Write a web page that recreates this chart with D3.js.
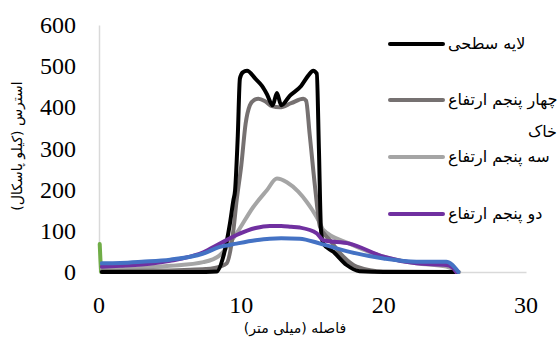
<!DOCTYPE html>
<html>
<head>
<meta charset="utf-8">
<script src="https://cdn.jsdelivr.net/npm/d3@7"></script>
<style>
  body { margin: 0; background: #fff; }
  svg { display: block; }
</style>
</head>
<body>
<svg id="chart" width="558" height="342"></svg>
<script>
// distance (mm) / stress (kPa) per series
const surfaceX = [0.2, 3, 6, 7.5, 8.27, 8.73, 9.2, 9.44, 9.56, 9.75, 9.9, 10.1, 10.4, 11.0, 11.45, 11.8, 12.2, 12.5, 12.8, 13.4, 14.2, 14.7, 15.05, 15.3, 15.45, 15.6, 15.76, 16.47, 17.4, 18.3, 20, 25.2];
const surfaceY = [0, 0, 0, 0, 1, 37, 118, 174, 198, 330, 470, 485, 489, 469, 452, 432, 405, 435, 405, 428, 452, 477, 489, 482, 300, 100, 69, 49, 17, 2, 0, 0];

const fourFifthX = [0.2, 3, 6, 7.5, 8.03, 8.5, 8.97, 9.44, 9.67, 10.0, 10.3, 10.6, 10.9, 11.2, 11.7, 12.15, 12.7, 13.5, 14.35, 14.55, 14.8, 15.2, 15.53, 16.23, 17.17, 18.1, 20, 25.2];
const fourFifthY = [2, 3, 5, 7, 9, 13, 21, 101, 174, 260, 360, 405, 418, 421, 414, 403, 400, 410, 421, 416, 335, 200, 110, 77, 37, 13, 1, 0];

const threeFifthX = [0.2, 3, 5, 7.33, 8.5, 9.67, 10.84, 11.78, 12.5, 13.2, 14.0, 14.6, 15.0, 15.53, 15.76, 17.6, 20, 22.3, 24.4, 25.3];
const threeFifthY = [6, 10, 15, 24, 41, 94, 158, 198, 227, 218, 195, 170, 150, 118, 102, 69, 37, 21, 13, 0];

const twoFifthX = [0.2, 1.5, 3, 5, 7.33, 8.5, 9.67, 11, 12.0, 12.8, 13.5, 14.1, 15.3, 15.76, 17.6, 20, 22.3, 24.4, 24.8, 25.1];
const twoFifthY = [13, 15, 18, 27, 48, 69, 90, 107, 112, 112, 110, 108, 94, 77, 69, 37, 21, 17, 12, 0];

const blueX = [0.2, 1.5, 3, 5, 7.33, 8.5, 9.67, 11, 12.0, 12.8, 14.1, 15.53, 17.6, 20, 22.3, 24.4, 24.8, 25.25];
const blueY = [21, 22, 25, 30, 45, 61, 69, 77, 81, 82, 81, 69, 49, 33, 25, 25, 18, 0];

const greenX = [0.05, 0.1, 0.15];
const greenY = [68, 30, 0];

const xTicks = [0, 10, 20, 30];
const yTicks = [0, 100, 200, 300, 400, 500, 600];

const series = [
    { x: greenX, y: greenY, color: '#70ad47' },
    { x: threeFifthX, y: threeFifthY, color: '#a5a5a5' },
    { x: fourFifthX, y: fourFifthY, color: '#767171' },
    { x: surfaceX, y: surfaceY, color: '#000000' },
    { x: twoFifthX, y: twoFifthY, color: '#7030a0' },
    { x: blueX, y: blueY, color: '#4472c4' }
];

const legendItems = [
    { lines: ['لایه سطحی'], color: '#000000' },
    { lines: ['چهار پنجم ارتفاع', 'خاک'], color: '#767171' },
    { lines: ['سه پنجم ارتفاع'], color: '#a5a5a5' },
    { lines: ['دو پنجم ارتفاع'], color: '#7030a0' }
];

const svg = d3.select('#chart');
const x = d3.scaleLinear().domain([0, 30]).range([99, 526]);
const y = d3.scaleLinear().domain([0, 600]).range([272, 25]);

const faFont = 'DejaVu Sans';

// axes: domain line only, labels drawn as plain text below
const yAxis = svg.append('g')
    .attr('transform', `translate(${x(0)},0)`)
    .call(d3.axisLeft(y).tickValues(yTicks).tickSize(0).tickFormat(''));
yAxis.select('.domain').attr('stroke', '#d9d9d9').attr('stroke-width', 1.5);

const xAxis = svg.append('g')
    .attr('transform', `translate(0,${y(0)})`)
    .call(d3.axisBottom(x).tickValues(xTicks).tickSize(0).tickFormat(''));
xAxis.select('.domain').attr('stroke', '#d9d9d9').attr('stroke-width', 1.5);

svg.selectAll('.yLabel')
    .data(yTicks)
    .enter().append('text')
    .attr('class', 'yLabel')
    .attr('x', x(0) - 23)
    .attr('y', d => y(d) + 8)
    .attr('font-family', 'Liberation Serif')
    .attr('font-size', 24)
    .attr('text-anchor', 'end')
    .text(d => d);

svg.selectAll('.xLabel')
    .data(xTicks)
    .enter().append('text')
    .attr('class', 'xLabel')
    .attr('x', d => x(d))
    .attr('y', y(0) + 41)
    .attr('font-family', 'Liberation Serif')
    .attr('font-size', 24)
    .attr('text-anchor', 'middle')
    .text(d => d);

// lines
const line = d3.line()
    .x(d => x(d[0]))
    .y(d => y(d[1]))
    .curve(d3.curveMonotoneX);

series.forEach(s => {
    svg.append('path')
        .datum(s.x.map((v, i) => [v, s.y[i]]))
        .attr('fill', 'none')
        .attr('stroke', s.color)
        .attr('stroke-width', 4)
        .attr('stroke-linejoin', 'round')
        .attr('stroke-linecap', 'round')
        .attr('d', line);
});

// titles
svg.append('text')
    .attr('x', 295).attr('y', 333)
    .attr('font-family', faFont).attr('font-size', 14)
    .attr('text-anchor', 'middle')
    .style('direction', 'rtl')
    .text('فاصله (میلی متر)');

svg.append('text')
    .attr('transform', 'translate(22,146) rotate(-90)')
    .attr('font-family', faFont).attr('font-size', 14)
    .attr('text-anchor', 'middle')
    .style('direction', 'rtl')
    .text('استرس (کیلو پاسکال)');

// legend
const legendY = [44, 100, 157, 214];
legendItems.forEach((item, i) => {
    const ly = legendY[i];
    svg.append('line')
        .attr('x1', 390).attr('x2', 443)
        .attr('y1', ly).attr('y2', ly)
        .attr('stroke', item.color)
        .attr('stroke-width', 4)
        .attr('stroke-linecap', 'round');
    svg.append('text')
        .attr('x', 448).attr('y', ly + 5)
        .attr('font-family', faFont).attr('font-size', 16)
        .text(item.lines[0]);
    if (item.lines[1]) {
        svg.append('text')
            .attr('x', 557).attr('y', ly + 37)
            .attr('font-family', faFont).attr('font-size', 16)
            .attr('text-anchor', 'end')
            .text(item.lines[1]);
    }
});
</script>
</body>
</html>
